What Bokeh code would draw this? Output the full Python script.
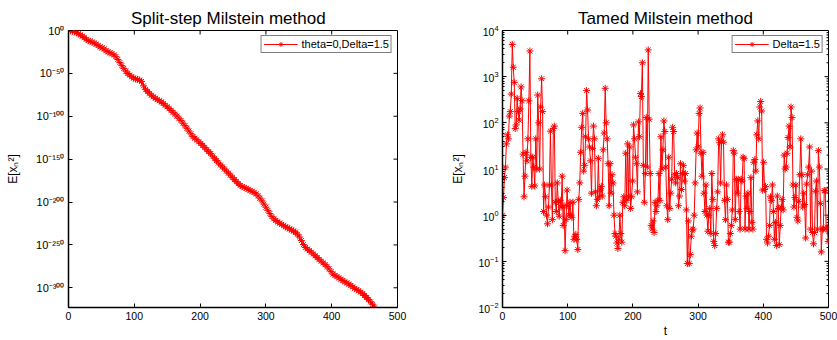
import numpy as np
from bokeh.plotting import figure
from bokeh.layouts import row
from bokeh.models import Range1d, FixedTicker, Legend, LegendItem
from bokeh.embed import file_html
from bokeh.resources import INLINE

# ---------------- data ----------------
DELTA = 1.5
# Split-step Milstein: log10 E[x_n^2], read every 2nd step (t = 0, 3, 6, ...)
split_step_t = 3.0
split_log10 = [
    0.0, -0.4, -0.9, -1.6, -2.6, -3.8, -5.2, -6.5, -8.3, -10.2,
    -11.8, -12.6, -13.5, -14.7, -15.8, -17.6, -19.1, -20.3, -21.5, -23.6,
    -25.0, -26.0, -27.1, -28.4, -30.5, -33.8, -37.4, -41.0, -44.2, -47.3,
    -50.1, -52.0, -53.9, -55.6, -56.5, -57.0, -57.8, -59.4, -64.5, -68.6,
    -71.0, -73.2, -75.5, -77.4, -79.0, -80.4, -82.0, -83.4, -85.1, -87.2,
    -89.0, -91.0, -93.2, -95.4, -97.5, -99.8, -102.4, -105.0, -108.1, -111.0,
    -114.0, -117.2, -120.5, -123.6, -125.6, -127.4, -129.8, -131.8, -134.0, -136.5,
    -139.0, -141.2, -143.5, -146.4, -149.0, -151.7, -154.4, -156.8, -159.1, -161.5,
    -164.0, -166.4, -168.6, -171.3, -173.8, -176.1, -178.6, -180.6, -182.0, -183.2,
    -184.0, -185.2, -186.4, -187.6, -188.9, -190.5, -192.8, -195.5, -198.6, -202.4,
    -206.0, -209.8, -213.5, -217.0, -219.6, -221.5, -223.2, -224.6, -226.1, -227.5,
    -229.0, -230.1, -231.3, -232.6, -233.9, -235.2, -237.6, -240.8, -245.0, -249.6,
    -253.0, -254.8, -256.7, -258.5, -260.6, -262.6, -264.8, -266.9, -269.0, -271.0,
    -273.0, -275.4, -278.0, -281.2, -284.0, -285.6, -287.0, -288.5, -290.0, -291.5,
    -293.0, -294.4, -295.6, -297.4, -299.0, -300.6, -302.2, -303.4, -305.0, -306.8,
    -309.0, -311.4, -313.8, -316.4, -319.2, -322.5,
]
split_exp_min = -323   # lower limit of the left axis (10^-323)

# Tamed Milstein: E[x_n^2] at every step t = n * Delta
tamed_vals = [
    1.0, 2.4, 6.5, 11, 35, 55, 45, 140, 175, 420,
    5000, 1600, 750, 75, 90, 340, 175, 115, 200, 600,
    300, 21, 2.5, 7, 23, 15, 45, 300, 3600, 18,
    4.2, 18, 11, 4.3, 45, 10, 400, 100, 10, 220,
    900, 175, 1.2, 4.5, 2.5, 1.0, 0.65, 1.5, 4.5, 66, 4.5,
    0.8, 75, 85, 1.9, 1.2, 5, 2, 0.95, 2.1, 1.5,
    7, 0.6, 1.6, 0.17, 0.8, 3.5, 1.6, 1.0, 1.9, 1.0, 0.9,
    1.9, 0.3, 0.35, 0.38, 0.3, 0.18, 2.2, 5, 23, 80,
    160, 9, 12, 50, 500, 190, 45, 30, 15, 3,
    28, 85, 45, 3.2, 1.6, 2.2, 17, 2.5, 3.5, 4.2, 2.6,
    26, 60, 560, 100, 45, 13, 1.6, 13, 3, 7.5,
    5, 1.0, 0.4, 0.35, 0.25, 0.19, 0.3, 1.0, 0.4, 0.26,
    1.9, 2.5, 1.6, 22, 2.1, 35, 2.5, 30, 1.4, 2.5,
    5.5, 90, 45, 18, 13, 3.2, 105, 50, 430, 370,
    2000, 12, 1.9, 8, 130, 11, 3800, 120, 8, 0.6,
    0.5, 0.75, 0.42, 1.9, 1.2, 1.6, 2.1, 8, 2.1, 50,
    10, 26, 110, 65, 11, 1.6, 0.8, 18, 1.4, 3, 6,
    80, 65, 7.5, 5, 8, 6.5, 1.6, 2.6, 13, 3.6,
    8, 12, 5.5, 8, 1.3, 0.09, 0.75, 0.09, 0.14, 0.35,
    0.48, 0.5, 1.0, 5, 26, 60, 30, 160, 210, 22,
    7, 23, 3, 1.2, 4.5, 1.0, 0.45, 1.0, 1.4, 0.4,
    8, 2.2, 0.27, 0.22, 0.4, 1.4, 3.2, 45, 37, 5,
    40, 55, 38, 2.1, 0.8, 4.5, 2.2, 0.26, 0.26, 0.4, 0.6,
    1.3, 25, 22, 0.8, 6, 3, 6, 1.2, 0.5, 6,
    5.5, 18, 17, 0.5, 2.6, 1.4, 3, 0.5, 1.2, 6.5,
    0.7, 0.5, 14, 16, 9, 55, 110, 45, 220, 290,
    180, 3.5, 14, 3.6, 4.2, 0.3, 0.25, 0.35, 0.6, 2.5, 2.1,
    4.5, 1.2, 0.3, 0.7, 0.22, 2.6, 1.4, 0.23, 0.6, 1.5,
    2.2, 1.3, 20, 10, 11, 22, 48, 85, 30, 220,
    130, 4.5, 1.5, 2.4, 4.5, 0.9, 0.75, 2, 7.5, 45, 7.5,
    1.5, 3, 1.7, 0.32, 4.7, 7.5, 11, 30, 0.5, 9,
    0.42, 0.24, 0.42, 3.3, 5.5, 0.5, 25, 11, 1.8, 0.16,
    0.5, 0.5, 3.4, 3.4, 0.5, 0.55, 0.27,
]

x_ticks = [0, 100, 200, 300, 400, 500]
split_y_tick_exps = [0, -50, -100, -150, -200, -250, -300]
tamed_y_tick_exps = [-2, -1, 0, 1, 2, 3, 4]

titles = ["Split-step  Milstein  method", "Tamed Milstein method"]
legend_labels = ["theta=0,Delta=1.5", "Delta=1.5"]
y_label = "E[x\u2099\u00b2]"
x_label = "t"

# ---------------- styling ----------------
FONT = "Liberation Sans"
RED = "#ff0000"
H = 340
TOP = 30
BOTTOM = 33
SUP = str.maketrans("0123456789-", "\u2070\u00b9\u00b2\u00b3\u2074\u2075\u2076\u2077\u2078\u2079\u207b")


def pow10_label(e):
    return "10" + str(e).translate(SUP)


split_t = np.arange(len(split_log10)) * split_step_t
split_e = np.array(split_log10, dtype=float)
tamed_t = np.arange(len(tamed_vals)) * DELTA
tamed_y = np.array(tamed_vals, dtype=float)

tamed_yticks = [10.0 ** e for e in tamed_y_tick_exps]
tamed_minor = [m * 10.0 ** e for e in tamed_y_tick_exps[:-1] for m in range(2, 10)]


def style_axis(ax):
    ax.axis_line_color = "black"
    ax.axis_line_width = 1.5
    ax.major_tick_in = 4
    ax.major_tick_out = 0
    ax.minor_tick_in = 0
    ax.minor_tick_out = 0
    ax.major_tick_line_color = "black"
    ax.minor_tick_line_color = "black"
    ax.major_label_text_font = FONT
    ax.major_label_text_color = "black"
    ax.major_label_text_font_size = "10.5px"
    ax.major_label_standoff = 4
    ax.axis_label_text_font = FONT
    ax.axis_label_text_font_style = "normal"
    ax.axis_label_text_font_size = "12px"
    ax.axis_label_text_color = "black"


def make_plot(title, t, y, y_range, y_type, yticks, yminor, ytop, label,
              width, bl, br, xlabel, ylabel_standoff, ytick_size, overrides=None):
    p = figure(width=width, height=H, x_range=Range1d(0, 500), y_range=y_range,
               y_axis_type=y_type, output_backend="svg", toolbar_location=None,
               min_border_left=bl, min_border_right=br, min_border_top=TOP,
               min_border_bottom=BOTTOM, title=title)
    p.outline_line_color = "black"
    p.outline_line_width = 1
    p.xgrid.visible = False
    p.ygrid.visible = False
    p.background_fill_color = "white"
    p.border_fill_color = "white"
    p.title.text_font = FONT
    p.title.text_font_size = "17px"
    p.title.text_font_style = "normal"
    p.title.text_color = "black"
    p.title.align = "center"
    p.title.vertical_align = "middle"
    p.title.standoff = 4

    xa = p.xaxis[0]
    xa.ticker = FixedTicker(ticks=x_ticks, minor_ticks=[])
    style_axis(xa)
    if xlabel:
        xa.axis_label = xlabel
        xa.axis_label_standoff = 1

    ya = p.yaxis[0]
    ya.ticker = FixedTicker(ticks=yticks, minor_ticks=yminor)
    style_axis(ya)
    ya.major_label_text_font_size = ytick_size
    ya.minor_tick_in = 2
    ya.axis_label = y_label
    ya.axis_label_standoff = ylabel_standoff
    if overrides:
        ya.major_label_overrides = overrides

    # mirrored ticks on the top and right edges of the box
    p.ray(x=x_ticks, y=[ytop] * len(x_ticks), length=4, length_units="screen",
          angle=-np.pi / 2, line_color="black", line_width=1)
    p.ray(x=[500] * len(yticks), y=yticks, length=4, length_units="screen",
          angle=np.pi, line_color="black", line_width=1)
    if yminor:
        p.ray(x=[500] * len(yminor), y=yminor, length=2, length_units="screen",
              angle=np.pi, line_color="black", line_width=1)

    ln = p.line(t, y, line_color=RED, line_width=1)
    sc = p.scatter(t, y, marker="asterisk", size=7, line_color=RED, line_width=1)

    leg = Legend(items=[LegendItem(label=label, renderers=[ln, sc])],
                 location="top_right", border_line_color="black",
                 border_line_width=1, background_fill_color="white",
                 label_text_font=FONT, label_text_font_size="11px",
                 label_text_color="black", padding=2, spacing=0,
                 glyph_width=34, glyph_height=12, label_height=12,
                 label_standoff=4, margin=5)
    p.add_layout(leg)
    return p


p1 = make_plot(titles[0], split_t, split_e, Range1d(split_exp_min, 0), "linear",
               split_y_tick_exps, [], 0, legend_labels[0], 440, 68, 43, None,
               13, "11px",
               overrides={e: pow10_label(e) for e in split_y_tick_exps})
p2 = make_plot(titles[1], tamed_t, tamed_y, Range1d(1e-2, 1e4), "log",
               tamed_yticks, tamed_minor, 1e4, legend_labels[1], 397, 62, 9, x_label,
               10, "10.5px")

layout = row(p1, p2)
open("out.html", "w").write(file_html(layout, INLINE))
